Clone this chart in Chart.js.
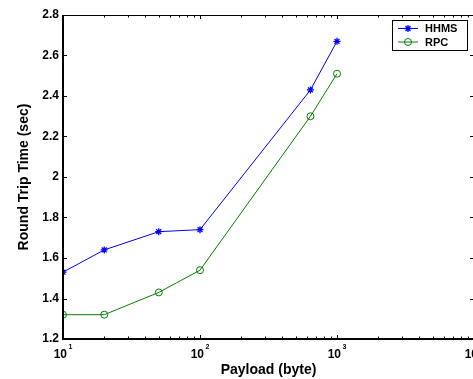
<!DOCTYPE html>
<html><head><meta charset="utf-8">
<style>html,body{margin:0;padding:0;background:#fff;overflow:hidden;}canvas{display:block;}</style>
<script src="https://cdn.jsdelivr.net/npm/chart.js@4"></script>
</head><body>
<canvas id="c" width="480" height="379"></canvas>
<script>
const payloads = [10, 20, 50, 100, 640, 1000];
const hhmsValues = [1.53, 1.64, 1.73, 1.74, 2.43, 2.67];
const rpcValues = [1.32, 1.32, 1.43, 1.54, 2.30, 2.51];
const seriesNames = ['HHMS', 'RPC'];
const xTickValues = [10, 100, 1000, 10000];
const xTickBase = '10';
const xTickExponents = ['1', '2', '3', '4'];
const yTickValues = [1.2, 1.4, 1.6, 1.8, 2.0, 2.2, 2.4, 2.6, 2.8];
const xTitle = 'Payload (byte)';
const yTitle = 'Round Trip Time (sec)';

const FONT = "'Liberation Sans', Arial, Helvetica, sans-serif";
const toPts = (vals) => payloads.map((p, i) => ({x: p, y: vals[i]}));

const axesPlugin = {
  id: 'matlabAxes',
  afterDatasetsDraw(chart) {
    const {ctx, chartArea: a, scales: {x, y}} = chart;
    ctx.save();
    ctx.strokeStyle = '#000';
    ctx.lineWidth = 1;
    ctx.beginPath();
    yTickValues.forEach(v => {
      const py = Math.round(y.getPixelForValue(v)) + 0.5;
      ctx.moveTo(a.left, py); ctx.lineTo(a.left + 4, py);
      ctx.moveTo(a.right, py); ctx.lineTo(a.right - 4, py);
    });
    for (let d = 10; d < 10000; d *= 10) {
      for (let m = 1; m <= 9; m++) {
        const px = Math.round(x.getPixelForValue(d * m)) + 0.5;
        const len = m === 1 ? 4 : 2.5;
        ctx.moveTo(px, a.bottom); ctx.lineTo(px, a.bottom - len);
        ctx.moveTo(px, a.top); ctx.lineTo(px, a.top + len);
      }
    }
    ctx.stroke();
    ctx.beginPath();
    ctx.moveTo(a.left, a.top + 0.5); ctx.lineTo(a.right, a.top + 0.5);
    ctx.moveTo(a.right - 0.5, a.top); ctx.lineTo(a.right - 0.5, a.bottom);
    ctx.stroke();
    ctx.lineWidth = 2;
    ctx.beginPath();
    ctx.moveTo(a.left, a.top); ctx.lineTo(a.left, a.bottom);
    ctx.lineTo(a.right, a.bottom);
    ctx.stroke();

    ctx.fillStyle = '#000';
    ctx.textBaseline = 'alphabetic';
    ctx.textAlign = 'left';
    xTickValues.forEach((v, i) => {
      const px = x.getPixelForValue(v);
      ctx.font = 'bold 12px ' + FONT;
      const wb = ctx.measureText(xTickBase).width;
      ctx.font = 'bold 7px ' + FONT;
      const we = ctx.measureText(xTickExponents[i]).width;
      const total = wb + 1.5 + we;
      const sx = px - total / 2;
      ctx.font = 'bold 12px ' + FONT;
      ctx.fillText(xTickBase, sx, 357.5);
      ctx.font = 'bold 7px ' + FONT;
      ctx.fillText(xTickExponents[i], sx + wb + 1.5, 349);
    });

    const lx = 392, ly = 20, lw = 75, lh = 30;
    ctx.fillStyle = '#fff';
    ctx.fillRect(lx, ly, lw, lh);
    ctx.lineWidth = 1;
    ctx.strokeStyle = '#000';
    ctx.strokeRect(lx + 0.5, ly + 0.5, lw, lh);
    chart.data.datasets.forEach((ds, i) => {
      const cy = ly + 8.5 + i * 13.5;
      ctx.strokeStyle = ds.borderColor;
      ctx.lineWidth = 1;
      ctx.beginPath();
      ctx.moveTo(lx + 6, cy); ctx.lineTo(lx + 26, cy);
      ctx.stroke();
      ctx.fillStyle = ds.pointBackgroundColor;
      ctx.lineWidth = ds.pointBorderWidth;
      Chart.helpers.drawPoint(ctx, {
        pointStyle: ds.pointStyle, radius: ds.pointRadius, rotation: 0,
        borderWidth: ds.pointBorderWidth
      }, lx + 16, cy);
      ctx.fillStyle = '#000';
      ctx.font = 'bold 11px ' + FONT;
      ctx.textBaseline = 'middle';
      ctx.fillText(ds.label, lx + 33, cy + 0.5);
    });
    ctx.restore();
  }
};

new Chart(document.getElementById('c'), {
  type: 'line',
  data: {
    datasets: [
      {
        label: seriesNames[0], data: toPts(hhmsValues),
        borderColor: '#0000ff', backgroundColor: '#0000ff',
        borderWidth: 1, pointStyle: 'star', pointRadius: 3.5,
        pointBorderColor: '#0000ff', pointBackgroundColor: '#0000ff',
        pointBorderWidth: 1.3, fill: false, tension: 0
      },
      {
        label: seriesNames[1], data: toPts(rpcValues),
        borderColor: '#008000', backgroundColor: 'rgba(0,0,0,0)',
        borderWidth: 1, pointStyle: 'circle', pointRadius: 3.5,
        pointBorderColor: '#008000', pointBackgroundColor: 'rgba(0,0,0,0)',
        pointBorderWidth: 1, fill: false, tension: 0
      }
    ]
  },
  options: {
    responsive: false,
    animation: false,
    devicePixelRatio: 1,
    layout: {padding: {top: 15, right: 6, left: 0, bottom: 0}},
    plugins: {legend: {display: false}, tooltip: {enabled: false}},
    scales: {
      x: {
        type: 'logarithmic', min: 10, max: 10000,
        grid: {display: false, drawTicks: false},
        border: {display: false},
        ticks: {display: false},
        afterFit: s => { s.height = 40; },
        title: {
          display: true, text: xTitle, color: '#000',
          font: {family: FONT, size: 14, weight: 'bold'},
          padding: {top: 0, bottom: 0.6}
        }
      },
      y: {
        type: 'linear', min: 1.2, max: 2.8,
        afterBuildTicks: s => { s.ticks = yTickValues.map(v => ({value: v})); },
        grid: {display: false, drawTicks: false},
        border: {display: false},
        ticks: {
          color: '#000', padding: 4,
          font: {family: FONT, size: 12, weight: 'bold'},
          callback: v => String(+Number(v).toFixed(1))
        },
        afterFit: s => { s.width = 63; },
        title: {
          display: true, text: yTitle, color: '#000',
          font: {family: FONT, size: 14, weight: 'bold'},
          padding: {top: 15.6, bottom: 0}
        }
      }
    }
  },
  plugins: [axesPlugin]
});
</script>
</body></html>
